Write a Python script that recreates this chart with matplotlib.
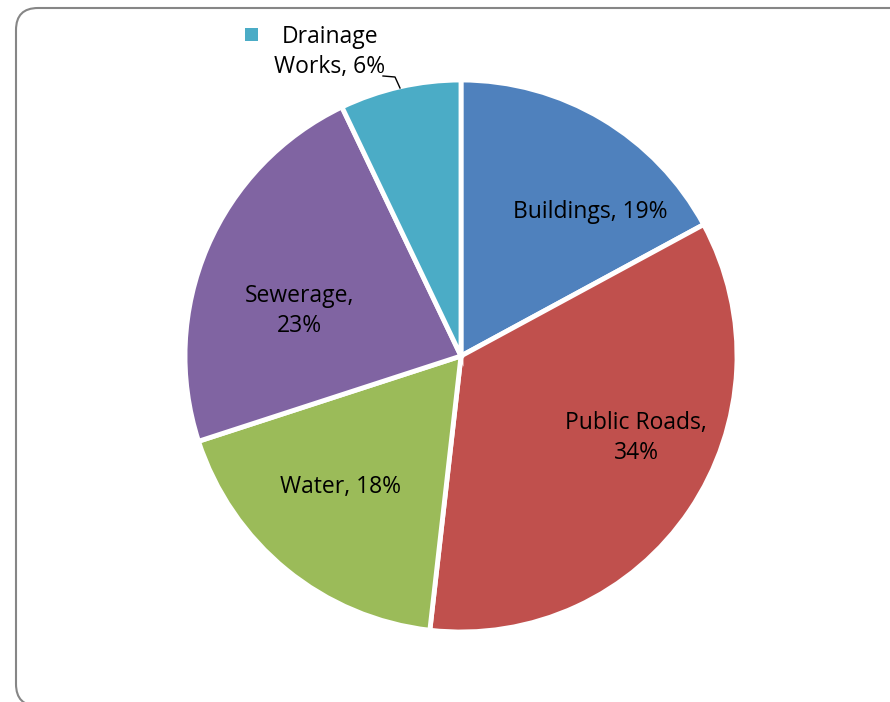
import matplotlib.pyplot as plt
from matplotlib.patches import FancyBboxPatch, Rectangle

plt.rcParams['font.family'] = ['Open Sans', 'DejaVu Sans']

# slice shares as measured from the drawing, and the printed labels
categories = ['Buildings', 'Public Roads', 'Water', 'Sewerage', 'Drainage Works']
shares = [17.1, 34.7, 18.2, 22.9, 7.1]
printed_pct = [19, 34, 18, 23, 6]
colors = ['#4F81BD', '#C0504D', '#9BBB59', '#8064A2', '#4BACC6']

W, H = 890, 702
fig = plt.figure(figsize=(W / 100, H / 100), dpi=100)
ax = fig.add_axes([0, 0, 1, 1])

# chart frame (rounded, cut off at right)
frame = FancyBboxPatch((16, -4), 920, H - 8 + 4, boxstyle='round,pad=0,rounding_size=22',
                       facecolor='white', edgecolor='#868686', linewidth=1.5, zorder=0)
ax.add_patch(frame)

cx, cy, r = 461, H - 356, 276
wedges, _ = ax.pie(shares, colors=colors, startangle=90, counterclock=False,
                   center=(cx, cy), radius=r, frame=True,
                   wedgeprops=dict(edgecolor='white', linewidth=3.5))
ax.set_xlim(0, W)
ax.set_ylim(0, H)
ax.set_aspect('equal')
ax.axis('off')

fs = 16.5
ax.text(590, H - 212, f'{categories[0]}, {printed_pct[0]}%', ha='center', va='center', fontsize=fs)
ax.text(636, H - 438, f'{categories[1]},\n{printed_pct[1]}%', ha='center', va='center',
        fontsize=fs, linespacing=1.3)
ax.text(340, H - 487, f'{categories[2]}, {printed_pct[2]}%', ha='center', va='center', fontsize=fs)
ax.text(299, H - 311, f'{categories[3]},\n{printed_pct[3]}%', ha='center', va='center',
        fontsize=fs, linespacing=1.3)
ax.text(330, H - 52, 'Drainage\nWorks, %d%%' % printed_pct[4], ha='center', va='center',
        fontsize=fs, linespacing=1.3)

# legend key square next to the outside label
ax.add_patch(Rectangle((245, H - 41), 13, 13, facecolor=colors[4], edgecolor='none'))
# leader line
ax.plot([383, 395, 400], [H - 76, H - 77, H - 88], color='black', linewidth=1)

fig.savefig('out.png', dpi=100)
